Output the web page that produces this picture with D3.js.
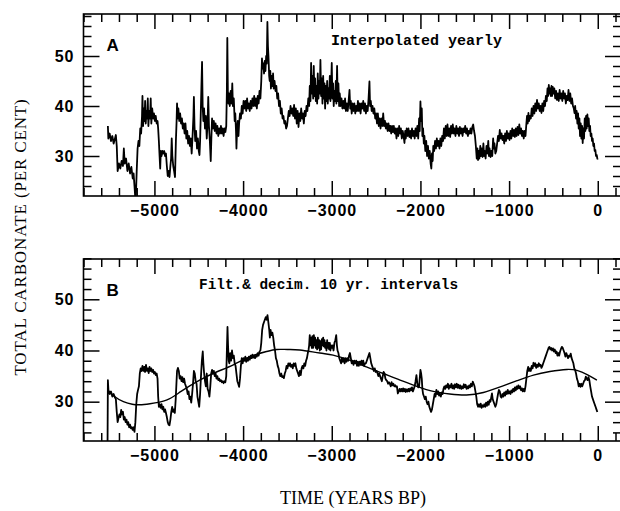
<!DOCTYPE html>
<html>
<head>
<meta charset="utf-8">
<script src="https://cdn.jsdelivr.net/npm/d3@7"></script>
<style>
  html, body { margin: 0; padding: 0; background: #fff; }
  svg { display: block; }
  .tick text { font-family: "Liberation Sans", Arial, sans-serif; font-weight: bold; font-size: 16px; letter-spacing: 1px; fill: #000; }
  .tick line { stroke: #000; stroke-width: 1.5; }
</style>
</head>
<body>
<svg id="chart" width="620" height="511"></svg>
<script>
// Axis tick labels
const xMajorTicks = [-5000, -4000, -3000, -2000, -1000, 0];
const yMajorTicks = [30, 40, 50];

// Panel A: total carbonate interpolated to yearly values [year BP, per cent]
const interpolatedYearly = [
  [-5525,36.0],[-5520,33.5],[-5505,34.5],[-5490,33.0],[-5475,34.0],[-5460,32.5],[-5445,33.5],[-5435,34.2],
  [-5425,32.0],[-5415,27.0],[-5400,28.5],[-5385,27.5],[-5370,29.0],[-5355,28.0],[-5345,31.5],[-5335,28.5],
  [-5320,29.5],[-5305,27.0],[-5290,28.5],[-5275,26.5],[-5260,27.8],[-5245,25.5],[-5235,26.5],[-5225,24.0],
  [-5212,20.5],[-5200,27.0],[-5190,31.5],[-5180,33.0],[-5170,32.0],[-5160,35.5],[-5150,34.5],[-5140,38.0],
  [-5135,42.0],[-5128,36.0],[-5120,39.5],[-5112,37.0],[-5105,41.0],[-5098,36.5],[-5090,39.0],[-5082,37.5],
  [-5075,41.5],[-5068,36.0],[-5060,39.0],[-5050,37.5],[-5042,41.5],[-5035,36.5],[-5025,39.5],[-5015,37.5],
  [-5005,38.5],[-4995,37.0],[-4985,38.0],[-4975,36.5],[-4965,37.0],[-4958,35.5],[-4950,33.0],[-4942,30.0],
  [-4935,27.5],[-4928,31.0],[-4920,30.0],[-4910,31.0],[-4900,30.5],[-4890,31.0],[-4880,30.0],[-4870,30.5],
  [-4860,28.0],[-4850,26.0],[-4840,27.0],[-4830,25.8],[-4820,28.0],[-4812,29.5],[-4805,33.5],[-4798,30.0],
  [-4788,28.0],[-4778,27.0],[-4768,25.8],[-4758,33.0],[-4750,37.0],[-4745,40.5],[-4738,37.5],[-4730,39.5],
  [-4720,37.0],[-4710,38.5],[-4700,36.5],[-4690,37.5],[-4680,35.5],[-4670,36.5],[-4660,34.5],[-4650,36.5],
  [-4640,33.5],[-4630,35.0],[-4620,32.5],[-4610,34.0],[-4600,32.0],[-4590,33.5],[-4580,30.5],[-4570,34.0],
  [-4560,38.0],[-4555,41.8],[-4548,36.0],[-4540,33.0],[-4530,35.0],[-4520,31.5],[-4510,33.5],[-4500,31.0],
  [-4492,30.2],[-4485,33.0],[-4478,38.0],[-4470,44.0],[-4463,48.8],[-4456,40.0],[-4448,37.0],[-4440,39.5],
  [-4430,35.5],[-4420,38.0],[-4410,33.5],[-4400,37.0],[-4393,41.8],[-4385,36.0],[-4375,33.0],[-4365,29.0],
  [-4358,33.5],[-4350,37.5],[-4340,35.5],[-4330,37.0],[-4320,35.0],[-4310,36.5],[-4300,34.5],[-4290,36.0],
  [-4280,34.0],[-4270,35.5],[-4260,34.5],[-4250,36.0],[-4240,34.5],[-4230,35.5],[-4220,34.0],[-4210,35.5],
  [-4200,34.8],[-4190,36.0],[-4183,43.0],[-4178,53.6],[-4172,43.0],[-4165,40.5],[-4158,42.5],[-4150,40.0],
  [-4140,43.0],[-4130,40.5],[-4122,44.5],[-4115,40.0],[-4105,41.5],[-4095,37.0],[-4088,38.5],[-4080,35.0],
  [-4075,31.5],[-4068,35.5],[-4060,37.0],[-4052,34.0],[-4045,36.5],[-4035,38.5],[-4025,37.5],[-4015,40.0],
  [-4005,38.5],[-3995,41.0],[-3985,39.5],[-3975,41.0],[-3965,39.0],[-3955,41.5],[-3945,39.5],[-3935,40.5],
  [-3925,39.0],[-3915,41.0],[-3905,39.5],[-3895,41.5],[-3885,40.0],[-3875,42.0],[-3865,40.0],[-3855,41.5],
  [-3845,39.5],[-3835,42.0],[-3825,40.5],[-3815,43.0],[-3805,41.5],[-3795,45.0],[-3787,49.5],[-3780,47.5],
  [-3772,48.5],[-3764,46.5],[-3756,49.0],[-3748,47.0],[-3740,50.0],[-3733,48.5],[-3726,56.8],[-3720,52.0],
  [-3714,50.0],[-3706,46.0],[-3700,45.0],[-3693,47.0],[-3686,43.5],[-3678,46.0],[-3670,44.0],[-3662,46.5],
  [-3655,43.5],[-3645,45.0],[-3635,43.0],[-3625,44.0],[-3615,41.5],[-3605,42.5],[-3595,40.0],[-3585,41.0],
  [-3575,38.5],[-3565,39.5],[-3555,37.5],[-3545,38.0],[-3535,36.5],[-3525,37.0],[-3515,35.5],[-3505,36.0],
  [-3495,37.5],[-3485,39.0],[-3475,38.0],[-3465,40.0],[-3455,38.5],[-3445,39.5],[-3435,38.0],[-3425,40.2],
  [-3415,37.5],[-3405,39.5],[-3395,36.5],[-3385,39.0],[-3375,35.8],[-3365,38.5],[-3355,37.0],[-3345,39.5],
  [-3335,37.5],[-3325,38.5],[-3315,36.5],[-3305,39.0],[-3295,38.0],[-3285,40.0],[-3275,39.0],[-3265,41.5],
  [-3255,40.0],[-3248,44.0],[-3240,41.0],[-3233,48.6],[-3226,42.5],[-3218,46.0],[-3210,41.5],[-3203,48.0],
  [-3196,42.0],[-3188,45.5],[-3180,41.0],[-3172,44.0],[-3165,40.5],[-3158,46.5],[-3150,41.5],[-3143,45.0],
  [-3135,42.5],[-3128,49.2],[-3120,42.0],[-3112,45.5],[-3105,40.5],[-3097,46.0],[-3090,41.5],[-3082,44.5],
  [-3075,39.5],[-3067,44.0],[-3060,41.0],[-3052,45.0],[-3045,40.5],[-3037,43.5],[-3030,41.5],[-3022,46.0],
  [-3015,41.0],[-3007,44.0],[-3000,48.6],[-2993,41.5],[-2985,44.5],[-2978,40.0],[-2970,43.0],[-2962,41.0],
  [-2955,45.0],[-2948,40.5],[-2940,48.0],[-2933,41.0],[-2925,44.5],[-2917,40.0],[-2910,42.5],[-2900,40.0],
  [-2890,41.5],[-2880,39.5],[-2870,41.0],[-2860,39.5],[-2850,41.5],[-2840,39.0],[-2830,40.5],[-2820,39.0],
  [-2810,41.0],[-2800,43.2],[-2792,39.5],[-2785,41.0],[-2775,38.5],[-2765,40.5],[-2755,39.0],[-2745,40.5],
  [-2735,38.5],[-2725,40.0],[-2715,39.0],[-2705,41.0],[-2695,39.0],[-2685,40.5],[-2675,38.5],[-2665,40.5],
  [-2655,39.5],[-2645,41.0],[-2635,39.0],[-2625,40.5],[-2615,38.5],[-2605,40.0],[-2595,39.0],[-2585,41.5],
  [-2575,44.9],[-2568,40.0],[-2560,41.0],[-2550,39.0],[-2540,40.0],[-2530,38.5],[-2520,39.5],[-2510,37.5],
  [-2500,38.5],[-2490,36.5],[-2480,38.5],[-2470,36.0],[-2460,37.5],[-2450,35.5],[-2440,37.5],[-2430,36.0],
  [-2420,38.5],[-2410,36.0],[-2400,37.0],[-2390,35.5],[-2380,36.5],[-2370,35.0],[-2360,36.5],[-2350,35.0],
  [-2340,36.0],[-2330,34.5],[-2320,36.0],[-2310,34.8],[-2300,36.0],[-2290,34.5],[-2280,35.5],[-2270,33.5],
  [-2260,35.5],[-2250,34.0],[-2240,36.0],[-2230,34.5],[-2220,35.5],[-2210,33.5],[-2200,35.0],[-2190,34.0],
  [-2180,32.6],[-2172,35.0],[-2165,33.5],[-2155,35.5],[-2145,34.0],[-2135,35.5],[-2125,33.8],[-2115,35.0],
  [-2105,33.5],[-2095,35.5],[-2085,34.0],[-2075,35.0],[-2065,33.5],[-2055,35.5],[-2045,34.0],[-2035,36.0],
  [-2025,33.5],[-2015,37.5],[-2008,35.0],[-2000,40.9],[-1993,37.0],[-1985,39.5],[-1978,34.0],[-1970,35.5],
  [-1962,32.5],[-1955,34.0],[-1945,31.0],[-1935,33.0],[-1925,30.0],[-1915,32.0],[-1905,29.5],[-1895,31.0],
  [-1885,28.5],[-1877,27.5],[-1870,30.5],[-1862,29.0],[-1855,32.0],[-1845,31.0],[-1835,33.0],[-1825,31.5],
  [-1815,33.5],[-1805,32.0],[-1795,33.0],[-1785,31.5],[-1775,33.5],[-1765,32.0],[-1755,34.0],[-1745,33.0],
  [-1735,35.5],[-1725,33.5],[-1715,36.0],[-1705,34.0],[-1695,36.3],[-1685,34.0],[-1675,35.5],[-1665,33.8],
  [-1655,36.0],[-1645,34.5],[-1635,36.3],[-1625,34.5],[-1615,35.5],[-1605,34.0],[-1595,36.0],[-1585,34.5],
  [-1575,35.5],[-1565,34.0],[-1555,35.8],[-1545,34.5],[-1535,35.5],[-1525,34.0],[-1515,35.5],[-1505,34.8],
  [-1495,36.0],[-1485,34.5],[-1475,35.5],[-1465,34.0],[-1455,35.0],[-1445,34.5],[-1435,35.5],[-1425,34.5],
  [-1415,35.8],[-1405,36.3],[-1395,35.0],[-1385,34.0],[-1375,32.0],[-1365,29.5],[-1357,31.5],[-1350,29.2],
  [-1342,31.0],[-1335,29.5],[-1325,32.0],[-1317,30.0],[-1310,31.5],[-1300,29.8],[-1290,32.5],[-1282,30.0],
  [-1275,31.0],[-1265,29.5],[-1255,32.0],[-1245,30.5],[-1235,33.0],[-1227,30.0],[-1220,31.5],[-1210,29.8],
  [-1200,31.0],[-1190,30.0],[-1180,33.5],[-1172,31.5],[-1165,32.5],[-1155,30.5],[-1145,31.0],[-1135,32.5],
  [-1125,34.0],[-1115,33.0],[-1105,35.2],[-1095,33.5],[-1085,34.5],[-1075,33.2],[-1065,34.0],[-1055,32.5],
  [-1045,34.5],[-1035,33.0],[-1025,35.0],[-1015,33.5],[-1005,34.5],[-995,33.2],[-985,35.0],[-975,33.5],
  [-965,35.5],[-955,34.0],[-945,35.2],[-935,33.8],[-925,35.5],[-915,34.0],[-905,35.8],[-895,34.2],
  [-885,36.3],[-875,34.5],[-865,35.5],[-855,34.0],[-845,35.0],[-835,33.5],[-825,35.0],[-815,34.0],
  [-805,36.5],[-798,38.0],[-790,36.5],[-782,38.6],[-775,37.0],[-765,38.0],[-755,37.5],[-745,39.5],
  [-735,38.0],[-725,40.0],[-715,38.5],[-705,40.5],[-695,39.0],[-685,41.2],[-675,39.5],[-665,40.5],
  [-655,39.0],[-645,40.0],[-635,38.6],[-625,40.5],[-615,39.0],[-605,41.0],[-595,40.0],[-585,42.0],
  [-575,41.0],[-567,43.5],[-560,42.0],[-552,44.2],[-545,42.5],[-537,43.5],[-530,42.0],[-522,44.0],
  [-515,42.0],[-507,43.8],[-500,42.5],[-490,43.5],[-480,41.5],[-470,43.0],[-460,41.2],[-450,42.5],
  [-440,41.0],[-430,43.2],[-420,41.5],[-410,42.5],[-400,41.0],[-390,43.0],[-380,41.5],[-370,42.5],
  [-360,40.5],[-350,42.0],[-340,41.2],[-330,43.2],[-320,41.0],[-310,42.5],[-300,40.5],[-290,41.5],
  [-280,40.0],[-270,39.5],[-262,38.6],[-255,40.0],[-245,37.5],[-238,39.0],[-230,36.5],[-222,38.5],
  [-215,35.5],[-207,37.5],[-200,34.0],[-192,36.5],[-185,33.5],[-177,36.0],[-170,32.6],[-162,35.5],
  [-155,33.5],[-147,37.5],[-140,35.0],[-132,38.0],[-125,35.5],[-117,38.3],[-110,36.0],[-102,37.5],
  [-95,35.0],[-87,36.0],[-80,34.0],[-72,34.5],[-65,33.0],[-57,33.5],[-50,32.0],[-42,32.5],
  [-35,31.0],[-27,31.2],[-20,30.0],[-12,30.2],[-5,29.5],[0,29.3]
];

// Panel B: filtered and decimated at 10 yr intervals [year BP, per cent]
const filtered10yr = [
  [-5530,18.0],[-5525,34.2],[-5518,32.0],[-5505,31.5],[-5490,32.0],[-5475,31.0],[-5460,31.5],[-5445,30.8],
  [-5435,30.5],[-5425,28.0],[-5415,26.0],[-5405,26.8],[-5395,27.5],[-5385,27.0],[-5375,28.4],[-5365,27.5],
  [-5355,28.0],[-5345,26.5],[-5335,27.0],[-5325,26.0],[-5315,26.5],[-5305,25.5],[-5295,26.0],[-5285,25.0],
  [-5275,25.5],[-5265,24.8],[-5255,25.0],[-5245,24.5],[-5235,25.0],[-5225,24.1],[-5215,26.0],[-5205,29.5],
  [-5195,31.5],[-5185,32.3],[-5175,33.0],[-5165,35.5],[-5155,36.5],[-5145,36.0],[-5135,37.0],[-5125,36.0],
  [-5115,36.8],[-5105,35.8],[-5095,37.2],[-5085,36.0],[-5075,36.5],[-5065,35.6],[-5055,36.8],[-5045,36.0],
  [-5035,36.5],[-5025,35.8],[-5015,36.2],[-5005,35.5],[-4995,35.8],[-4985,35.2],[-4975,35.5],[-4965,34.5],
  [-4958,31.0],[-4950,29.0],[-4940,29.5],[-4930,28.8],[-4920,29.5],[-4910,28.5],[-4900,29.0],[-4890,28.0],
  [-4880,28.5],[-4870,27.8],[-4860,27.0],[-4850,26.0],[-4840,25.5],[-4830,25.4],[-4820,26.5],[-4810,28.0],
  [-4800,29.0],[-4790,28.0],[-4780,28.5],[-4770,27.8],[-4760,30.5],[-4752,33.5],[-4745,36.0],[-4735,36.6],
  [-4725,36.0],[-4715,34.5],[-4705,35.0],[-4695,34.0],[-4685,34.8],[-4675,33.8],[-4665,34.5],[-4655,33.5],
  [-4645,33.0],[-4635,32.5],[-4625,31.5],[-4615,32.0],[-4605,30.5],[-4595,31.0],[-4585,29.8],[-4575,31.5],
  [-4565,33.5],[-4555,36.0],[-4545,35.5],[-4535,34.0],[-4525,33.5],[-4515,31.0],[-4505,30.0],[-4495,29.0],
  [-4485,31.5],[-4475,35.0],[-4465,38.0],[-4455,39.8],[-4448,37.5],[-4440,35.6],[-4430,34.0],[-4420,33.0],
  [-4410,35.5],[-4400,32.5],[-4390,32.0],[-4380,31.0],[-4370,33.0],[-4360,35.5],[-4350,36.2],[-4340,35.5],
  [-4330,36.0],[-4320,35.0],[-4310,35.5],[-4300,34.5],[-4290,35.0],[-4280,34.2],[-4270,34.5],[-4260,34.0],
  [-4250,34.2],[-4240,33.8],[-4230,34.0],[-4220,33.6],[-4210,34.0],[-4200,33.8],[-4190,35.0],[-4183,40.0],
  [-4176,44.6],[-4170,41.0],[-4162,38.0],[-4155,37.5],[-4145,39.5],[-4135,38.0],[-4125,40.0],[-4115,38.5],
  [-4105,39.0],[-4095,37.5],[-4085,37.0],[-4075,35.5],[-4065,34.0],[-4055,33.5],[-4045,32.9],[-4035,34.5],
  [-4025,37.0],[-4015,38.5],[-4005,37.5],[-3995,38.5],[-3985,38.0],[-3975,38.8],[-3965,37.8],[-3955,38.5],
  [-3945,38.0],[-3935,38.8],[-3925,38.2],[-3915,39.0],[-3905,38.5],[-3895,39.2],[-3885,38.6],[-3875,39.0],
  [-3865,38.5],[-3855,39.0],[-3845,38.8],[-3835,39.5],[-3825,39.0],[-3815,39.8],[-3805,40.0],[-3795,41.5],
  [-3785,44.0],[-3775,45.0],[-3765,45.5],[-3755,46.0],[-3745,46.5],[-3735,46.0],[-3725,46.9],[-3715,45.5],
  [-3705,44.0],[-3698,42.5],[-3690,44.0],[-3680,43.0],[-3670,43.5],[-3660,42.5],[-3650,41.0],[-3640,40.0],
  [-3630,38.5],[-3620,38.0],[-3610,37.0],[-3600,36.5],[-3590,35.5],[-3580,35.0],[-3570,35.5],[-3560,34.8],
  [-3550,35.0],[-3540,34.6],[-3530,35.5],[-3520,36.0],[-3510,37.0],[-3500,36.5],[-3490,37.5],[-3480,37.0],
  [-3470,37.5],[-3460,36.8],[-3450,37.2],[-3440,36.5],[-3430,37.5],[-3420,37.0],[-3410,37.5],[-3400,36.5],
  [-3390,36.0],[-3380,35.5],[-3370,35.0],[-3360,36.0],[-3350,35.2],[-3340,36.5],[-3330,37.0],[-3320,36.5],
  [-3310,37.5],[-3300,37.0],[-3290,38.0],[-3280,38.5],[-3270,39.5],[-3262,40.1],[-3255,41.0],[-3248,43.0],
  [-3240,41.0],[-3232,42.5],[-3225,40.5],[-3218,42.8],[-3210,40.5],[-3202,43.0],[-3195,41.0],[-3188,42.5],
  [-3180,40.5],[-3172,42.0],[-3165,40.2],[-3157,42.5],[-3150,40.5],[-3142,42.0],[-3135,40.0],[-3127,41.8],
  [-3120,40.2],[-3112,42.2],[-3105,41.0],[-3097,42.5],[-3090,40.8],[-3082,42.0],[-3075,40.5],[-3067,41.5],
  [-3060,40.0],[-3052,42.0],[-3045,40.5],[-3037,41.5],[-3030,40.2],[-3022,41.5],[-3015,40.0],[-3007,41.0],
  [-3000,40.5],[-2990,41.0],[-2980,40.0],[-2970,41.5],[-2960,42.0],[-2950,43.0],[-2942,41.0],[-2935,40.0],
  [-2925,39.5],[-2915,38.5],[-2905,38.0],[-2895,37.5],[-2885,38.5],[-2875,37.8],[-2865,38.5],[-2855,37.5],
  [-2845,38.5],[-2835,37.8],[-2825,38.5],[-2815,38.0],[-2805,39.0],[-2795,39.5],[-2785,38.5],[-2775,37.5],
  [-2765,38.0],[-2755,37.2],[-2745,38.0],[-2735,37.5],[-2725,38.0],[-2715,37.0],[-2705,37.8],[-2695,37.0],
  [-2685,37.8],[-2675,37.2],[-2665,38.0],[-2655,37.2],[-2645,38.0],[-2635,37.0],[-2625,37.5],[-2615,37.5],
  [-2605,38.0],[-2595,38.5],[-2585,39.0],[-2575,39.5],[-2565,38.5],[-2555,37.5],[-2545,37.0],[-2535,36.5],
  [-2525,36.0],[-2515,36.5],[-2505,35.8],[-2495,36.0],[-2485,35.6],[-2475,35.0],[-2465,35.5],[-2455,35.0],
  [-2445,34.5],[-2435,34.0],[-2425,35.0],[-2415,35.8],[-2405,35.5],[-2395,34.5],[-2385,34.2],[-2375,34.0],
  [-2365,33.5],[-2355,33.8],[-2345,33.5],[-2335,33.0],[-2325,33.8],[-2315,33.2],[-2305,33.5],[-2295,33.0],
  [-2285,33.2],[-2275,32.9],[-2265,33.0],[-2255,31.6],[-2245,32.0],[-2235,32.5],[-2225,32.0],[-2215,32.5],
  [-2205,32.0],[-2195,32.6],[-2185,32.0],[-2175,32.5],[-2165,31.9],[-2155,32.4],[-2145,32.0],[-2135,32.5],
  [-2125,32.0],[-2115,32.6],[-2105,32.2],[-2095,32.8],[-2085,32.0],[-2075,32.5],[-2065,33.0],[-2055,34.0],
  [-2045,35.2],[-2035,33.5],[-2025,32.8],[-2015,33.0],[-2008,34.5],[-2000,36.2],[-1992,35.5],[-1985,34.5],
  [-1978,32.5],[-1970,31.5],[-1960,31.0],[-1950,30.5],[-1940,31.0],[-1930,30.0],[-1920,29.5],[-1910,30.0],
  [-1900,29.0],[-1890,28.5],[-1880,28.0],[-1870,28.5],[-1860,29.5],[-1850,30.5],[-1840,31.5],[-1830,31.0],
  [-1820,32.3],[-1810,31.5],[-1800,32.0],[-1790,31.2],[-1780,31.5],[-1770,31.0],[-1760,31.8],[-1750,31.5],
  [-1740,32.5],[-1730,33.0],[-1720,32.5],[-1710,33.2],[-1700,32.8],[-1690,33.5],[-1680,32.5],[-1670,33.2],
  [-1660,32.8],[-1650,33.5],[-1640,32.6],[-1630,33.2],[-1620,32.5],[-1610,33.4],[-1600,32.8],[-1590,33.5],
  [-1580,32.7],[-1570,33.3],[-1560,32.6],[-1550,33.2],[-1540,32.5],[-1530,33.0],[-1520,32.6],[-1510,33.4],
  [-1500,32.8],[-1490,33.3],[-1480,32.5],[-1470,33.0],[-1460,32.6],[-1450,33.2],[-1440,32.8],[-1430,33.5],
  [-1420,33.0],[-1410,33.9],[-1400,33.5],[-1390,33.0],[-1380,32.0],[-1370,31.0],[-1360,29.5],[-1350,29.0],
  [-1340,29.5],[-1330,29.0],[-1320,29.6],[-1310,28.8],[-1300,29.3],[-1290,29.0],[-1280,29.5],[-1270,29.0],
  [-1260,29.8],[-1250,29.2],[-1240,30.0],[-1230,29.4],[-1220,30.3],[-1210,30.0],[-1200,31.0],[-1193,31.6],
  [-1185,30.5],[-1175,30.0],[-1165,29.5],[-1155,29.0],[-1145,29.5],[-1135,30.5],[-1125,31.5],[-1115,32.3],
  [-1105,32.0],[-1095,31.0],[-1085,30.8],[-1075,31.5],[-1065,31.0],[-1055,31.8],[-1045,31.2],[-1035,32.0],
  [-1025,31.5],[-1015,32.3],[-1005,31.6],[-995,32.0],[-985,31.5],[-975,32.2],[-965,31.8],[-955,32.5],
  [-945,32.0],[-935,32.8],[-925,32.2],[-915,33.0],[-905,32.5],[-895,33.2],[-885,32.6],[-875,33.0],
  [-865,32.2],[-855,32.6],[-845,32.0],[-835,32.5],[-825,32.0],[-815,33.0],[-805,34.5],[-795,36.0],
  [-785,36.8],[-775,36.0],[-765,36.5],[-755,36.0],[-745,37.0],[-735,36.5],[-725,37.6],[-715,37.0],
  [-705,37.5],[-695,36.6],[-685,37.2],[-675,36.8],[-665,37.5],[-655,37.0],[-645,37.2],[-635,36.6],
  [-625,37.0],[-615,37.5],[-605,38.0],[-595,38.5],[-585,39.0],[-575,39.5],[-565,40.0],[-555,40.5],
  [-545,40.7],[-535,40.2],[-525,40.5],[-515,40.0],[-505,40.4],[-495,39.8],[-485,40.2],[-475,39.5],
  [-465,39.8],[-455,39.0],[-445,39.5],[-435,39.0],[-425,39.8],[-415,40.3],[-405,40.7],[-395,40.5],
  [-385,40.0],[-375,39.5],[-365,38.8],[-355,39.5],[-345,39.0],[-335,38.5],[-325,39.0],[-315,38.8],
  [-305,39.4],[-295,38.5],[-285,38.0],[-275,37.5],[-265,36.5],[-255,36.2],[-245,35.5],[-235,34.5],
  [-225,34.0],[-215,33.0],[-205,33.5],[-195,32.9],[-185,33.5],[-175,33.0],[-165,33.5],[-155,34.0],
  [-145,34.2],[-135,34.9],[-125,34.5],[-115,34.2],[-105,34.8],[-95,34.2],[-85,33.0],[-75,32.0],
  [-65,31.0],[-55,30.5],[-45,30.0],[-35,29.5],[-25,29.0],[-15,28.5],[-5,28.0]
];

// Panel B: long-term smooth trend [year BP, per cent]
const smoothTrend = [
  [-5525,32.3],[-5450,31.0],[-5350,30.0],[-5250,29.5],[-5165,29.4],[-5050,29.6],[-4865,30.3],[-4700,32.0],
  [-4490,34.2],[-4300,35.8],[-4110,37.2],[-3920,38.8],[-3735,39.8],[-3620,40.2],[-3500,40.2],[-3360,40.1],
  [-3135,39.5],[-2985,39.1],[-2800,38.1],[-2610,36.8],[-2420,35.5],[-2230,34.2],[-2040,33.0],[-1855,32.0],
  [-1670,31.5],[-1480,31.3],[-1290,31.8],[-1100,32.9],[-910,34.1],[-725,35.2],[-540,35.9],[-350,36.3],
  [-235,36.1],[-120,35.3],[-10,34.2]
];

const svg = d3.select("#chart");
const width = 620;

const x = d3.scaleLinear().domain([-5800, 200]).range([83.5, 615.5]);
const frameLeft = 83.5, frameRight = width + 1;

const xMinor = d3.range(-5800, 201, 200).filter(v => v % 1000 !== 0);
const yMinor = d3.range(24, 59, 2).filter(v => v % 10 !== 0);

const panels = [
  { id: "A", top: 14, bottom: 196, domain: [22, 58.4], data: interpolatedYearly, trend: null,
    letter: "A", letterY: 51, note: "Interpolated yearly", noteX: 331, noteY: 45, noteSize: 15 },
  { id: "B", top: 259, bottom: 441, domain: [22.32, 57.87], data: filtered10yr, trend: smoothTrend,
    letter: "B", letterY: 296, note: "Filt.& decim. 10 yr. intervals", noteX: 199, noteY: 289, noteSize: 14.4 }
];

panels.forEach(p => {
  const y = d3.scaleLinear().domain(p.domain).range([p.bottom, p.top]);
  const g = svg.append("g");

  const clipId = "clip" + p.id;
  svg.append("clipPath").attr("id", clipId)
    .append("rect").attr("x", frameLeft).attr("y", p.top)
    .attr("width", frameRight - frameLeft).attr("height", p.bottom - p.top);

  // Bottom axis: inward ticks with labels
  g.append("g").attr("transform", `translate(0,${p.bottom})`)
    .call(d3.axisBottom(x).tickValues(xMinor).tickSize(-8).tickFormat(""))
    .call(a => a.select(".domain").remove());
  g.append("g").attr("transform", `translate(0,${p.bottom})`)
    .call(d3.axisBottom(x).tickValues(xMajorTicks).tickSize(-15).tickPadding(9)
      .tickFormat(d => d === 0 ? "0" : "\u2212" + Math.abs(d)))
    .call(a => a.select(".domain").remove());

  // Top axis: inward ticks only
  g.append("g").attr("transform", `translate(0,${p.top})`)
    .call(d3.axisTop(x).tickValues(xMinor).tickSize(-8).tickFormat(""))
    .call(a => a.select(".domain").remove());
  g.append("g").attr("transform", `translate(0,${p.top})`)
    .call(d3.axisTop(x).tickValues(xMajorTicks).tickSize(-15).tickFormat(""))
    .call(a => a.select(".domain").remove());

  // Left axis with labels
  g.append("g").attr("transform", `translate(${frameLeft},0)`)
    .call(d3.axisLeft(y).tickValues(yMinor).tickSize(-8).tickFormat(""))
    .call(a => a.select(".domain").remove());
  g.append("g").attr("transform", `translate(${frameLeft},0)`)
    .call(d3.axisLeft(y).tickValues(yMajorTicks).tickSize(-16).tickPadding(9))
    .call(a => a.select(".domain").remove());

  // Right axis: inward ticks
  g.append("g").attr("transform", `translate(${width},0)`)
    .call(d3.axisRight(y).tickValues(yMinor).tickSize(-7).tickFormat(""))
    .call(a => a.select(".domain").remove());
  g.append("g").attr("transform", `translate(${width},0)`)
    .call(d3.axisRight(y).tickValues(yMajorTicks).tickSize(-15).tickFormat(""))
    .call(a => a.select(".domain").remove());

  // Frame
  g.append("rect")
    .attr("x", frameLeft).attr("y", p.top)
    .attr("width", frameRight - frameLeft).attr("height", p.bottom - p.top)
    .attr("fill", "none").attr("stroke", "#000").attr("stroke-width", 1.6);

  const line = d3.line().x(d => x(d[0])).y(d => y(d[1]));

  g.append("path").datum(p.data)
    .attr("clip-path", `url(#${clipId})`)
    .attr("d", line)
    .attr("fill", "none").attr("stroke", "#000")
    .attr("stroke-width", 1.8).attr("stroke-linejoin", "round");

  if (p.trend) {
    g.append("path").datum(p.trend)
      .attr("clip-path", `url(#${clipId})`)
      .attr("d", line.curve(d3.curveNatural))
      .attr("fill", "none").attr("stroke", "#000").attr("stroke-width", 1.4);
  }

  g.append("text").attr("x", frameLeft + 23).attr("y", p.letterY)
    .attr("font-family", "Liberation Sans, Arial, sans-serif")
    .attr("font-weight", "900").attr("font-size", 17)
    .text(p.letter);

  g.append("text").attr("x", p.noteX).attr("y", p.noteY)
    .attr("font-family", "Liberation Mono, Courier New, monospace")
    .attr("font-weight", "bold").attr("font-size", p.noteSize)
    .text(p.note);
});

// Axis titles
svg.append("text")
  .attr("transform", "translate(26,237) rotate(-90)")
  .attr("text-anchor", "middle")
  .attr("font-family", "Liberation Serif, Times New Roman, serif")
  .attr("font-size", 17)
  .attr("letter-spacing", 0.85)
  .text("TOTAL CARBONATE (PER CENT)");

svg.append("text")
  .attr("x", 353).attr("y", 504)
  .attr("text-anchor", "middle")
  .attr("font-family", "Liberation Serif, Times New Roman, serif")
  .attr("font-size", 18)
  .text("TIME (YEARS BP)");
</script>
</body>
</html>
